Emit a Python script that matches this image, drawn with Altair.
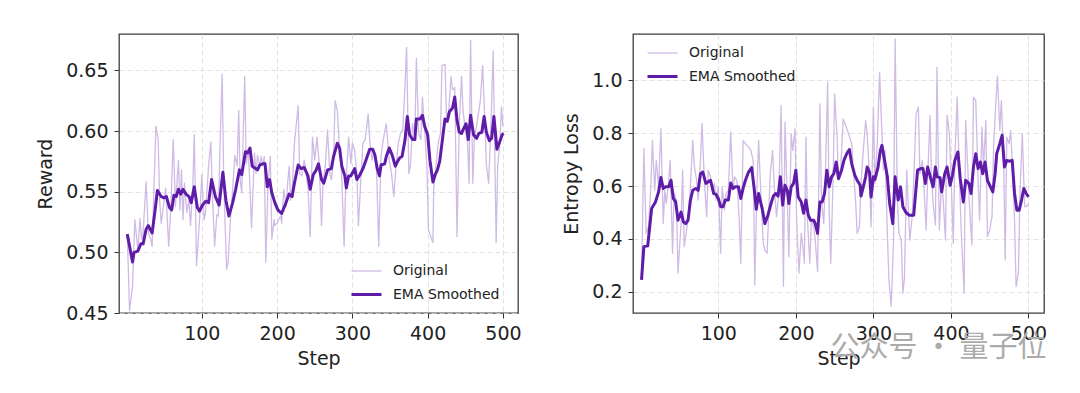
import altair as alt
import pandas as pd

# ---------------- data ----------------
REWARD_ORIG_STEPS = [1, 4, 8, 11, 15, 18, 20, 22, 26, 29, 32, 34, 39, 42, 44, 46, 49, 52, 56, 59, 62, 65, 66, 69, 71, 73, 75, 77, 80, 83, 85, 88, 90, 93, 97, 100, 103, 105, 109, 112, 114, 117, 120, 122, 124, 127, 129, 131, 133, 135, 138, 141, 144, 147, 149, 151, 153, 155, 157, 159, 162, 166, 170, 172, 174, 177, 179, 181, 183, 185, 188, 191, 193, 196, 197, 200, 202, 205, 206, 209, 212, 214, 216, 218, 220, 223, 228, 230, 233, 236, 238, 241, 244, 247, 250, 253, 256, 259, 261, 264, 267, 270, 272, 275, 277, 280, 282, 286, 289, 291, 295, 298, 300, 303, 306, 308, 311, 314, 317, 321, 323, 326, 329, 332, 335, 338, 341, 345, 349, 352, 355, 358, 361, 364, 367, 370, 372, 375, 377, 380, 383, 385, 388, 391, 393, 396, 399, 401, 404, 407, 408, 411, 414, 417, 419, 423, 425, 428, 431, 433, 436, 439, 442, 445, 447, 450, 453, 455, 457, 460, 462, 465, 468, 470, 473, 476, 478, 481, 484, 487, 491, 493, 496, 498, 500]
REWARD_ORIG = [0.515, 0.452, 0.472, 0.527, 0.502, 0.528, 0.511, 0.516, 0.558, 0.516, 0.511, 0.505, 0.604, 0.593, 0.543, 0.524, 0.538, 0.553, 0.505, 0.538, 0.593, 0.538, 0.549, 0.576, 0.535, 0.568, 0.527, 0.557, 0.533, 0.543, 0.522, 0.554, 0.597, 0.489, 0.527, 0.564, 0.527, 0.533, 0.571, 0.591, 0.549, 0.505, 0.531, 0.530, 0.584, 0.647, 0.565, 0.522, 0.486, 0.492, 0.527, 0.552, 0.580, 0.571, 0.617, 0.560, 0.549, 0.598, 0.645, 0.573, 0.584, 0.520, 0.582, 0.565, 0.580, 0.571, 0.579, 0.572, 0.579, 0.492, 0.557, 0.579, 0.511, 0.527, 0.522, 0.524, 0.527, 0.530, 0.524, 0.552, 0.538, 0.557, 0.571, 0.543, 0.552, 0.590, 0.621, 0.565, 0.563, 0.576, 0.568, 0.554, 0.513, 0.595, 0.576, 0.595, 0.573, 0.522, 0.557, 0.571, 0.601, 0.565, 0.560, 0.576, 0.625, 0.617, 0.595, 0.560, 0.505, 0.552, 0.595, 0.573, 0.590, 0.584, 0.565, 0.522, 0.557, 0.590, 0.593, 0.614, 0.593, 0.576, 0.584, 0.571, 0.505, 0.579, 0.593, 0.606, 0.576, 0.565, 0.546, 0.571, 0.590, 0.598, 0.601, 0.639, 0.669, 0.565, 0.571, 0.606, 0.595, 0.660, 0.598, 0.593, 0.628, 0.601, 0.571, 0.519, 0.513, 0.508, 0.552, 0.571, 0.590, 0.598, 0.654, 0.655, 0.612, 0.617, 0.645, 0.634, 0.636, 0.513, 0.606, 0.645, 0.617, 0.601, 0.590, 0.557, 0.675, 0.557, 0.595, 0.604, 0.617, 0.625, 0.654, 0.609, 0.572, 0.557, 0.604, 0.666, 0.508, 0.571, 0.590, 0.620, 0.604]

REWARD_EMA_STEPS = [1, 8, 10, 15, 19, 22, 26, 29, 34, 38, 41, 46, 50, 53, 57, 60, 63, 66, 69, 72, 75, 79, 83, 86, 90, 94, 97, 101, 105, 109, 113, 118, 123, 128, 132, 136, 141, 145, 150, 153, 158, 161, 164, 167, 174, 177, 181, 184, 187, 190, 193, 197, 201, 206, 210, 213, 216, 220, 223, 228, 232, 236, 241, 244, 248, 252, 255, 259, 262, 267, 272, 275, 280, 283, 286, 290, 292, 295, 298, 303, 306, 310, 314, 318, 323, 327, 330, 333, 336, 338, 343, 345, 349, 353, 357, 360, 363, 366, 370, 373, 376, 380, 383, 385, 390, 393, 396, 400, 403, 407, 410, 413, 416, 420, 423, 426, 429, 433, 436, 439, 442, 445, 447, 451, 454, 457, 461, 465, 468, 472, 475, 478, 482, 485, 488, 492, 495, 499, 501]
REWARD_EMA = [0.515, 0.492, 0.500, 0.501, 0.507, 0.507, 0.519, 0.522, 0.516, 0.535, 0.551, 0.546, 0.545, 0.546, 0.537, 0.535, 0.547, 0.546, 0.552, 0.548, 0.552, 0.548, 0.546, 0.541, 0.554, 0.537, 0.534, 0.539, 0.542, 0.541, 0.560, 0.546, 0.539, 0.566, 0.543, 0.530, 0.541, 0.552, 0.568, 0.564, 0.583, 0.582, 0.586, 0.571, 0.568, 0.572, 0.573, 0.573, 0.554, 0.560, 0.549, 0.541, 0.535, 0.532, 0.538, 0.543, 0.548, 0.546, 0.557, 0.572, 0.569, 0.570, 0.563, 0.552, 0.564, 0.568, 0.573, 0.560, 0.557, 0.568, 0.569, 0.579, 0.590, 0.586, 0.571, 0.563, 0.553, 0.563, 0.563, 0.569, 0.560, 0.564, 0.569, 0.576, 0.585, 0.585, 0.580, 0.569, 0.563, 0.572, 0.573, 0.579, 0.586, 0.580, 0.571, 0.575, 0.578, 0.579, 0.593, 0.612, 0.597, 0.593, 0.593, 0.610, 0.610, 0.613, 0.604, 0.597, 0.576, 0.558, 0.564, 0.568, 0.575, 0.595, 0.610, 0.608, 0.616, 0.619, 0.628, 0.609, 0.599, 0.598, 0.601, 0.606, 0.593, 0.613, 0.597, 0.594, 0.598, 0.599, 0.612, 0.599, 0.592, 0.594, 0.612, 0.585, 0.590, 0.597, 0.598]

ENTROPY_ORIG_STEPS = [1, 4, 7, 10, 13, 15, 18, 20, 23, 26, 29, 31, 33, 36, 38, 41, 43, 46, 48, 52, 54, 56, 59, 61, 64, 67, 69, 72, 74, 77, 79, 82, 85, 87, 90, 92, 95, 97, 100, 103, 105, 108, 110, 113, 116, 119, 121, 124, 127, 129, 132, 135, 139, 142, 145, 147, 150, 152, 155, 158, 160, 163, 165, 167, 170, 172, 175, 178, 181, 184, 186, 189, 191, 194, 196, 199, 201, 204, 207, 209, 211, 213, 215, 218, 220, 223, 225, 228, 231, 233, 236, 238, 241, 243, 245, 248, 250, 253, 255, 258, 261, 265, 268, 272, 274, 277, 279, 282, 284, 287, 290, 292, 295, 297, 300, 302, 305, 308, 310, 313, 315, 318, 320, 323, 326, 328, 331, 333, 336, 338, 340, 343, 345, 347, 350, 352, 355, 358, 360, 363, 365, 368, 370, 373, 375, 377, 380, 382, 385, 388, 390, 393, 395, 398, 400, 403, 405, 408, 411, 413, 417, 419, 422, 424, 427, 429, 432, 435, 437, 440, 442, 445, 447, 450, 453, 455, 458, 460, 463, 465, 468, 470, 472, 475, 477, 479, 482, 484, 487, 489, 492, 495, 497, 500]
ENTROPY_ORIG = [0.245, 0.741, 0.421, 0.446, 0.603, 0.773, 0.584, 0.697, 0.597, 0.817, 0.458, 0.584, 0.534, 0.622, 0.697, 0.346, 0.572, 0.547, 0.271, 0.458, 0.660, 0.371, 0.434, 0.471, 0.597, 0.773, 0.679, 0.622, 0.547, 0.697, 0.836, 0.622, 0.484, 0.660, 0.635, 0.584, 0.610, 0.547, 0.597, 0.346, 0.597, 0.509, 0.572, 0.584, 0.804, 0.584, 0.635, 0.622, 0.471, 0.308, 0.773, 0.760, 0.748, 0.735, 0.697, 0.227, 0.610, 0.773, 0.559, 0.384, 0.358, 0.346, 0.500, 0.647, 0.735, 0.610, 0.484, 0.572, 0.905, 0.221, 0.842, 0.547, 0.333, 0.798, 0.735, 0.817, 0.471, 0.271, 0.421, 0.371, 0.308, 0.785, 0.471, 0.308, 0.471, 0.446, 0.396, 0.277, 0.911, 0.547, 0.458, 0.635, 0.992, 0.509, 0.308, 0.622, 0.948, 0.798, 0.628, 0.672, 0.854, 0.823, 0.798, 0.760, 0.672, 0.547, 0.421, 0.446, 0.610, 0.735, 0.848, 0.798, 0.635, 0.446, 0.898, 0.610, 0.760, 1.030, 0.873, 0.660, 0.735, 0.421, 0.245, 0.145, 0.396, 1.156, 0.547, 0.421, 0.396, 0.195, 0.250, 0.660, 0.522, 0.396, 0.484, 0.622, 0.873, 0.898, 0.647, 0.697, 0.610, 0.434, 0.635, 0.867, 0.635, 0.534, 0.453, 1.049, 0.434, 0.622, 0.547, 0.396, 0.867, 0.798, 0.647, 0.384, 0.697, 0.936, 0.635, 0.446, 0.195, 0.848, 0.647, 0.522, 0.377, 0.936, 0.923, 0.622, 0.471, 0.823, 0.672, 0.848, 0.409, 0.434, 0.484, 0.748, 0.923, 1.017, 0.810, 0.923, 0.697, 0.321, 0.785, 0.760, 0.810, 0.697, 0.471, 0.220, 0.271, 0.572, 0.798, 0.522, 0.522, 0.534]

ENTROPY_EMA_STEPS = [1, 4, 9, 14, 19, 23, 26, 29, 32, 36, 39, 42, 45, 48, 52, 55, 58, 61, 64, 67, 71, 74, 77, 80, 84, 87, 90, 94, 97, 100, 103, 106, 109, 113, 116, 119, 122, 126, 129, 132, 135, 139, 143, 146, 149, 152, 157, 160, 164, 168, 171, 174, 177, 180, 183, 186, 189, 191, 194, 197, 200, 203, 207, 210, 213, 216, 219, 223, 225, 228, 231, 234, 237, 240, 243, 246, 249, 252, 255, 259, 262, 266, 269, 272, 276, 279, 283, 284, 287, 290, 292, 295, 297, 300, 302, 306, 309, 311, 314, 318, 321, 325, 328, 332, 335, 338, 342, 346, 349, 352, 357, 361, 364, 367, 370, 374, 377, 380, 382, 386, 388, 392, 395, 399, 402, 405, 409, 412, 416, 419, 423, 426, 429, 432, 435, 438, 441, 444, 447, 451, 454, 457, 459, 463, 466, 469, 472, 476, 479, 482, 485, 488, 491, 494, 497, 500]
ENTROPY_EMA = [0.245, 0.371, 0.374, 0.515, 0.540, 0.578, 0.632, 0.591, 0.597, 0.597, 0.622, 0.553, 0.540, 0.471, 0.502, 0.464, 0.458, 0.471, 0.546, 0.584, 0.591, 0.584, 0.647, 0.653, 0.610, 0.616, 0.622, 0.572, 0.569, 0.553, 0.522, 0.522, 0.547, 0.547, 0.612, 0.591, 0.597, 0.597, 0.553, 0.591, 0.622, 0.653, 0.670, 0.597, 0.512, 0.572, 0.509, 0.458, 0.490, 0.534, 0.562, 0.572, 0.562, 0.635, 0.528, 0.603, 0.584, 0.534, 0.597, 0.610, 0.660, 0.559, 0.540, 0.497, 0.547, 0.490, 0.471, 0.471, 0.458, 0.421, 0.540, 0.540, 0.572, 0.660, 0.597, 0.635, 0.647, 0.691, 0.628, 0.660, 0.697, 0.725, 0.738, 0.685, 0.641, 0.622, 0.603, 0.562, 0.597, 0.635, 0.672, 0.653, 0.559, 0.635, 0.625, 0.672, 0.735, 0.754, 0.704, 0.635, 0.534, 0.458, 0.635, 0.547, 0.597, 0.522, 0.500, 0.490, 0.490, 0.490, 0.660, 0.666, 0.666, 0.610, 0.672, 0.628, 0.597, 0.672, 0.635, 0.632, 0.578, 0.647, 0.672, 0.603, 0.641, 0.697, 0.729, 0.628, 0.540, 0.622, 0.610, 0.572, 0.672, 0.722, 0.666, 0.691, 0.647, 0.691, 0.622, 0.597, 0.578, 0.647, 0.722, 0.760, 0.792, 0.672, 0.697, 0.694, 0.697, 0.572, 0.509, 0.509, 0.547, 0.591, 0.572, 0.559]

SERIES = ["Original", "EMA Smoothed"]
X_TICKS = [100, 200, 300, 400, 500]
REWARD_TICKS = [0.45, 0.50, 0.55, 0.60, 0.65]
ENTROPY_TICKS = [0.2, 0.4, 0.6, 0.8, 1.0]
WATERMARK = "公众号 · 量子位"

# ---------------- styling ----------------
COLORS = ["#cfbbe5", "#5f1ca8"]
WIDTHS = [1.3, 3.0]
FONT = "DejaVu Sans"
TXT = "#222222"


def long_df(os_, ov, es, ev):
    a = pd.DataFrame({"step": os_, "value": ov, "series": SERIES[0]})
    b = pd.DataFrame({"step": es, "value": ev, "series": SERIES[1]})
    return pd.concat([a, b], ignore_index=True)


def panel(df, ytitle, ydomain, yticks, yfmt, width, lx, ly, title=None):
    leg = alt.Legend(orient="none", legendX=lx, legendY=ly, title=None,
                     symbolType="stroke", symbolSize=900, labelFontSize=14,
                     labelFont=FONT, labelColor=TXT, labelOffset=10,
                     rowPadding=-3, padding=0)
    color = alt.Color("series:N", scale=alt.Scale(domain=SERIES, range=COLORS), legend=leg)
    sw = alt.StrokeWidth("series:N", scale=alt.Scale(domain=SERIES, range=WIDTHS), legend=leg)
    x = alt.X("step:Q", scale=alt.Scale(domain=[-10, 520], nice=False, zero=False),
              axis=alt.Axis(values=X_TICKS, title="Step", format="d", titlePadding=6))
    y = alt.Y("value:Q", scale=alt.Scale(domain=ydomain, nice=False, zero=False),
              axis=alt.Axis(values=yticks, title=ytitle, format=yfmt, titlePadding=10))
    base = alt.Chart(df).mark_line(strokeJoin="round", clip=True)
    orig = base.transform_filter(alt.datum.series == SERIES[0]).encode(x=x, y=y, color=color, strokeWidth=sw)
    ema = base.transform_filter(alt.datum.series == SERIES[1]).encode(x=x, y=y, color=color, strokeWidth=sw)
    props = dict(width=width, height=279)
    if title is not None:
        props["title"] = title
    return alt.layer(orig, ema).properties(**props)


left = panel(long_df(REWARD_ORIG_STEPS, REWARD_ORIG, REWARD_EMA_STEPS, REWARD_EMA),
             "Reward", [0.45, 0.68], REWARD_TICKS, ".2f", 399, 231, 221)

wm = alt.TitleParams(text=WATERMARK, orient="bottom", anchor="end", fontSize=29,
                     font="Noto Sans CJK SC", color="#ababab", fontWeight="normal", offset=-34)
right = panel(long_df(ENTROPY_ORIG_STEPS, ENTROPY_ORIG, ENTROPY_EMA_STEPS, ENTROPY_EMA),
              "Entropy Loss", [0.12, 1.175], ENTROPY_TICKS, ".1f", 411, 13, 3, title=wm)

chart = (
    alt.hconcat(left, right, spacing=40)
    .resolve_scale(x="independent", y="independent", color="independent", strokeWidth="independent")
    .resolve_legend(color="independent", strokeWidth="independent")
    .properties(padding={"left": 28, "top": 25, "right": 5, "bottom": 5}, background="white")
    .configure_view(stroke="#3d3d3d", strokeWidth=1.3)
    .configure_axis(grid=True, gridDash=[5, 3], gridColor="#dadada", gridWidth=0.8,
                    domain=False, tickSize=5, tickColor="#333333", tickWidth=1,
                    labelFont=FONT, titleFont=FONT, labelFontSize=19, titleFontSize=19,
                    labelColor=TXT, titleColor=TXT, titleFontWeight="normal",
                    labelPadding=6)
)

chart.save("out.html", embed_options={"renderer": "svg", "actions": False})
